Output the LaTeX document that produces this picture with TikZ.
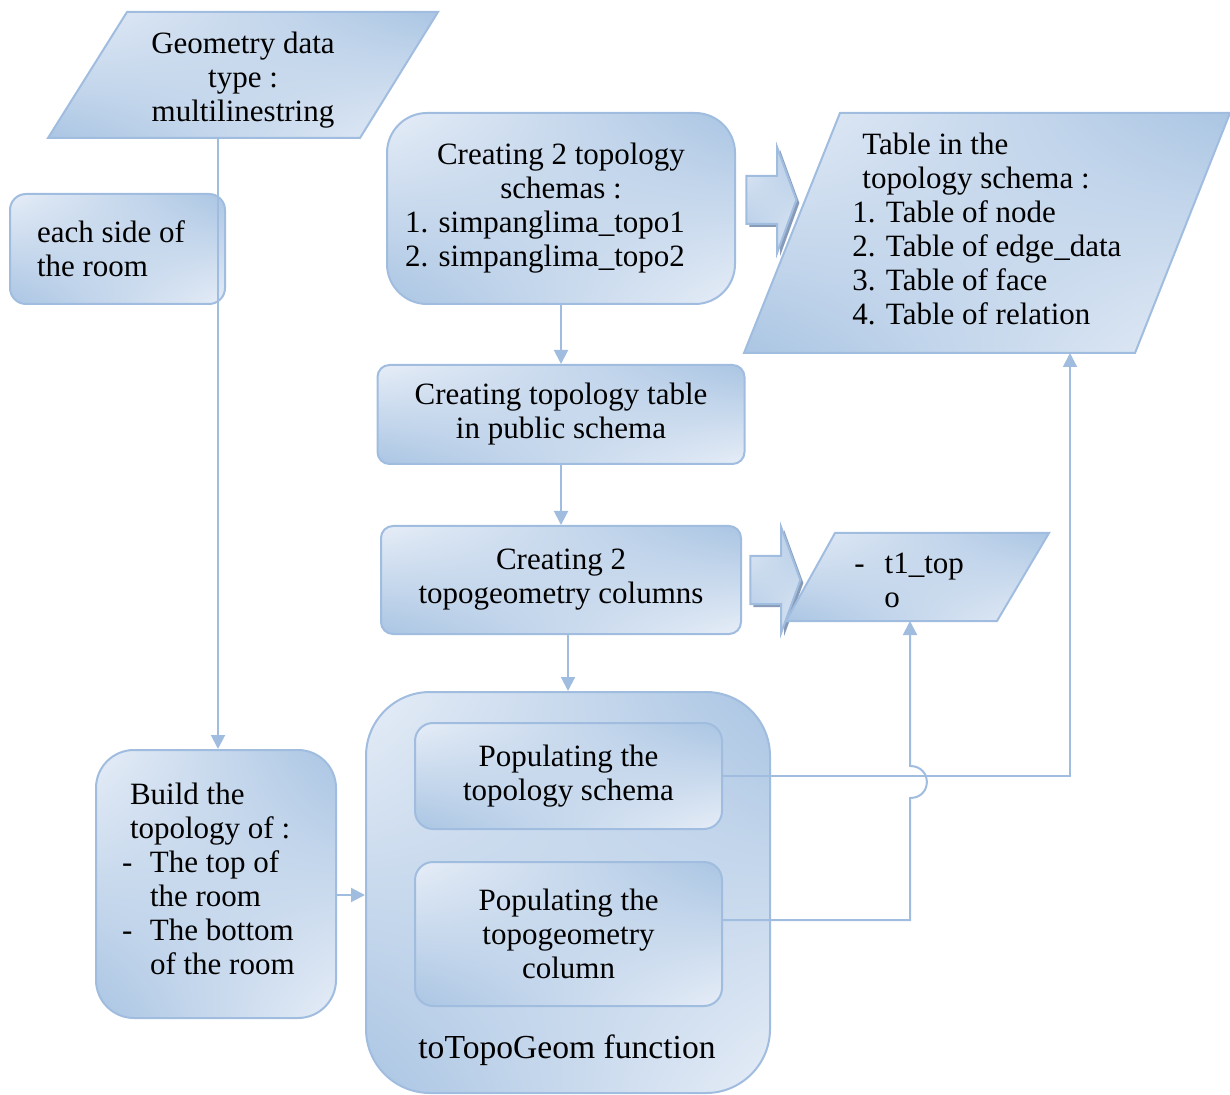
\documentclass[tikz,border=0pt]{standalone}
\usepackage{fontspec}
\setmainfont{Liberation Serif}
\usetikzlibrary{arrows.meta,shapes,shadows,shadings,positioning}
\definecolor{lineblue}{RGB}{160,189,224}
\definecolor{shadedark}{RGB}{170,197,227}
\definecolor{shadelight}{RGB}{230,237,247}
\definecolor{arrowshadow}{RGB}{135,155,185}

\begin{document}
\begin{tikzpicture}[x=0.5pt,y=-0.5pt,>={Triangle[length=7pt,width=7pt]}]
  \tikzstyle{shaded}=[draw=lineblue,line width=1pt,upper left=shadelight,upper right=shadedark,lower left=shadedark,lower right=shadelight]
  \tikzstyle{box}=[shaded,rounded corners=6pt,align=center,inner sep=0pt,font=\fontsize{15.5}{17}\selectfont]
  \tikzstyle{txt}=[inner sep=0pt,font=\fontsize{15.5}{17}\selectfont]
  \tikzstyle{conn}=[draw=lineblue,line width=1pt]
  \tikzstyle{blockarrow}=[shaded,single arrow,single arrow head extend=14.5pt,single arrow tip angle=140,minimum height=25pt,inner xsep=0pt,inner ysep=11.5pt,drop shadow={shadow xshift=1.5pt,shadow yshift=-1.5pt,fill=arrowshadow,opacity=1}]

  \useasboundingbox (0,0) rectangle (1230,1095);

  % input data
  \path[shaded] (127,12) -- (438,12) -- (360,138) -- (48,138) -- cycle;
  \node[txt,align=center] (geom) at (243,80) {Geometry data\\type :\\multilinestring};
  \coordinate (geomS) at (218,138);

  \node[box,align=flush left,text width=80.5pt,minimum width=107.5pt,minimum height=55pt,rounded corners=8pt] (side) at (117.5,249) {each side of\\the room};

  % schemas
  \node[box,minimum width=174pt,minimum height=95.5pt,rounded corners=20pt] (create2) at (561,208.5)
    {Creating 2 topology\\schemas :\\1. simpanglima\_topo1\rule{16pt}{0pt}\\2. simpanglima\_topo2\rule{16pt}{0pt}};
  \node[blockarrow] (ba1) at (767,200) {};
  \path[shaded] (840,113) -- (1230,113) -- (1135,353) -- (744,353) -- cycle;
  \node[txt,align=flush left,anchor=west] (tbl) at (852,229)
    {\hspace{5pt}Table in the\\\hspace{5pt}topology schema :\\1. Table of node\\2. Table of edge\_data\\3. Table of face\\4. Table of relation};
  \coordinate (tblS) at (1070,353);

  \node[box,minimum width=183.5pt,minimum height=49.5pt] (ctable) at (561,414.5) {Creating topology table\\in public schema};
  \node[box,minimum width=180pt,minimum height=54pt] (ccols) at (561,580) {Creating 2\\topogeometry columns};
  \node[blockarrow] (ba2) at (771,580) {};
  \path[shaded] (835,533) -- (1049,533) -- (997,621) -- (786,621) -- cycle;
  \node[txt,align=flush left,anchor=west] (t1) at (854,580) {-\hspace{10pt}t1\_top\\\hspace{15pt}o};
  \coordinate (t1S) at (910,621);

  % function
  \node[box,minimum width=202pt,minimum height=200.5pt,rounded corners=32pt] (func) at (568,892.5) {};
  \node[box,minimum width=153.5pt,minimum height=53pt,rounded corners=9pt] (pop1) at (568.5,776) {Populating the\\topology schema};
  \node[box,minimum width=153.5pt,minimum height=72pt,rounded corners=9pt] (pop2) at (568.5,934) {Populating the\\topogeometry\\column};
  \node[txt,font=\fontsize{16.8}{19}\selectfont] (funclabel) at (567,1050) {toTopoGeom function};

  \node[box,align=flush left,text width=94pt,minimum width=120pt,minimum height=134pt,rounded corners=19pt] (build) at (216,884)
    {\hspace{4pt}Build the\\\hspace{4pt}topology of :\\\makebox[14pt][l]{-}The top of\\\hspace{14pt}the room\\\makebox[14pt][l]{-}The bottom\\\hspace{14pt}of the room\\[-12pt]\mbox{}};

  \coordinate (jumpA) at (910,798);
  \coordinate (jumpB) at (910,766);

  \draw[conn,->] (geomS) -- (geomS |- build.north);
  \draw[conn,->] (create2) -- (ctable);
  \draw[conn,->] (ctable) -- (ccols);
  \draw[conn,->] (ccols.south -| func.north) -- (func.north);
  \draw[conn,->] ([yshift=-5.5pt]build.east) -- ([yshift=-5.5pt]build.east -| func.west);
  \draw[conn,->] (pop1.east) -| (tblS);
  \draw[conn,->] ([yshift=7pt]pop2.east) -| (jumpA) to[out=0,in=0,looseness=1.8] (jumpB) -- (t1S);
\end{tikzpicture}
\end{document}
